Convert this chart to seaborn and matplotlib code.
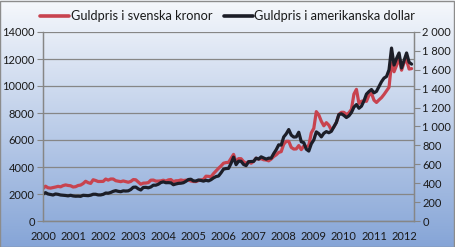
import numpy as np
import pandas as pd
import matplotlib
matplotlib.use("Agg")
import matplotlib.pyplot as plt
import seaborn as sns
from matplotlib.patches import Rectangle
from matplotlib.ticker import FuncFormatter
from matplotlib.lines import Line2D

# Monthly values, Jan 2000 - Apr 2012
usd = [
    284, 300, 286, 280, 275, 286, 282, 275, 273, 270, 266, 272,
    265, 262, 263, 261, 272, 270, 268, 273, 283, 283, 276, 276,
    282, 296, 294, 302, 314, 321, 314, 310, 319, 317, 319, 333,
    357, 359, 340, 328, 355, 356, 351, 360, 379, 379, 389, 407,
    414, 405, 406, 404, 384, 392, 398, 400, 405, 420, 439, 442,
    424, 423, 434, 429, 422, 431, 424, 437, 456, 470, 476, 510,
    549, 555, 557, 610, 676, 596, 633, 632, 598, 586, 628, 629,
    631, 665, 655, 679, 667, 655, 665, 665, 713, 754, 806, 803,
    889, 922, 968, 909, 888, 890, 939, 839, 829, 760, 740, 816,
    858, 943, 924, 890, 928, 946, 934, 949, 996, 1043, 1127, 1134,
    1118, 1095, 1113, 1148, 1205, 1232, 1193, 1215, 1271, 1343, 1370, 1391,
    1356, 1372, 1424, 1474, 1512, 1529, 1600, 1830, 1650, 1720, 1778, 1619,
    1700, 1778, 1680, 1660,
]
sek = [
    2408, 2580, 2460, 2436, 2475, 2517, 2566, 2530, 2621, 2673, 2633, 2611,
    2518, 2541, 2630, 2662, 2774, 2943, 2841, 2785, 3056, 3000, 2926, 2926,
    2933, 3108, 3028, 3111, 3109, 2985, 2952, 2914, 2967, 2916, 2871, 2930,
    3070, 3052, 2890, 2722, 2805, 2812, 2843, 3024, 3032, 2956, 2956, 2971,
    3022, 2957, 3045, 3070, 2918, 2979, 2985, 3040, 2997, 3024, 3029, 2961,
    2926, 2919, 2995, 3046, 3081, 3319, 3307, 3278, 3511, 3713, 3903, 4080,
    4282, 4329, 4345, 4636, 4935, 4351, 4621, 4614, 4395, 4278, 4396, 4277,
    4417, 4655, 4585, 4617, 4536, 4520, 4456, 4589, 4777, 4901, 5078, 5139,
    5690, 5901, 5905, 5454, 5328, 5340, 5587, 5286, 5554, 5500, 5600, 6528,
    6864, 8100, 7854, 7387, 7053, 7284, 7098, 6738, 6972, 7301, 7889, 8051,
    8050, 7884, 8014, 8266, 9399, 9750, 8709, 8870, 8897, 8864, 9316, 9459,
    8950, 8781, 8971, 9139, 9374, 9633, 9904, 11712, 11055, 11524, 12090, 11171,
    11730, 11913, 11256, 11288,
]
years = [str(y) for y in range(2000, 2013)]
label_sek = "Guldpris i svenska kronor"
label_usd = "Guldpris i amerikanska dollar"

dates = pd.date_range("2000-01-01", periods=len(usd), freq="MS")
df = pd.DataFrame({
    "t": dates.year + (dates.month - 1) / 12.0,
    "sek": sek,
    "usd": usd,
})

sns.set_theme(style="white")
plt.rcParams["font.family"] = ["Lato", "DejaVu Sans"]

W, H = 455, 247
fig = plt.figure(figsize=(W / 100, H / 100), dpi=100)

# gradient background
bg = fig.add_axes([0, 0, 1, 1], zorder=-10)
top = np.array([0.965, 0.973, 0.988])
bot = np.array([0.525, 0.647, 0.843])
g = np.linspace(0, 1, 256)[:, None]
img = top[None, None, :] * (1 - g[..., None]) + bot[None, None, :] * g[..., None]
img = np.repeat(img, 2, axis=1)
bg.imshow(img, aspect="auto", extent=[0, 1, 0, 1], origin="upper")
bg.set_xlim(0, 1); bg.set_ylim(0, 1)
bg.axis("off")
fig.patches.append(Rectangle((0.001, 0.002), 0.997, 0.994, transform=fig.transFigure,
                             fill=False, edgecolor="#8c8c8c", linewidth=1.0))

ax = fig.add_axes([43 / W, 1 - 221 / H, (414 - 43) / W, (221 - 32) / H])
ax.patch.set_alpha(0)
ax2 = ax.twinx()
ax2.patch.set_alpha(0)

red = "#c8434f"
blk = "#1c1e28"
sns.lineplot(data=df, x="t", y="sek", ax=ax, color=red, linewidth=2.3, legend=False)
sns.lineplot(data=df, x="t", y="usd", ax=ax2, color=blk, linewidth=2.3, legend=False)

ax.set_xlim(2000, 2012.33)
ax.set_ylim(0, 14000)
ax2.set_ylim(0, 2000)
ax.set_yticks(range(0, 14001, 2000))
ax2.set_yticks(range(0, 2001, 200))
ax.set_xticks(range(2000, 2013))
ax.set_xticklabels(years)
ax2.yaxis.set_major_formatter(FuncFormatter(lambda v, p: f"{int(v):,}".replace(",", " ")))

ax.grid(axis="y", color="#868686", linewidth=0.9)
ax.grid(axis="x", visible=False)
ax2.grid(False)
for a in (ax, ax2):
    a.set_xlabel(""); a.set_ylabel("")
    for s in a.spines.values():
        s.set_color("#868686")
        s.set_linewidth(0.9)
    a.spines["top"].set_visible(False)
ax.tick_params(axis="both", which="major", direction="out", length=4, width=0.8,
               color="#868686", labelsize=8, labelcolor="#1a1a1a", pad=2)
ax.tick_params(axis="x", pad=3)
ax2.tick_params(axis="y", direction="out", length=4, width=0.8, color="#868686",
                labelsize=8, labelcolor="#1a1a1a", pad=2)
ax.set_zorder(1)
ax2.set_zorder(2)

handles = [Line2D([], [], color=red, lw=2.6), Line2D([], [], color=blk, lw=2.6)]
fig.legend(handles, [label_sek, label_usd], loc="center", bbox_to_anchor=(0.5, 1 - 16 / H),
           ncol=2, frameon=False, fontsize=9.2, handlelength=2.3, handletextpad=0.1,
           columnspacing=0.9, labelcolor="#1a1a1a")

fig.savefig("out.png", dpi=100)
